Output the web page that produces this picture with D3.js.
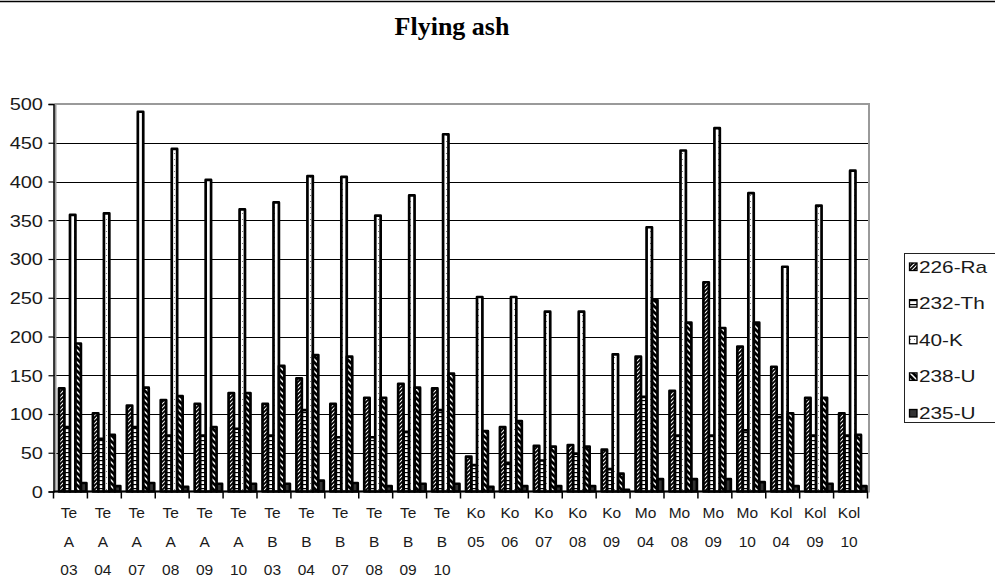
<!DOCTYPE html>
<html>
<head>
<meta charset="utf-8">
<script src="https://cdn.jsdelivr.net/npm/d3@7"></script>
<style>
  body { margin: 0; background: #fff; }
  svg { display: block; }
  text { font-family: "Liberation Sans", Arial, sans-serif; fill: #1a1a1a; }
</style>
</head>
<body>
<svg id="chart" width="995" height="578"></svg>
<script>
// Sampling sites (lines separated by spaces) and measured activities
const categories = [
  "Te A 03", "Te A 04", "Te A 07", "Te A 08", "Te A 09", "Te A 10",
  "Te B 03", "Te B 04", "Te B 07", "Te B 08", "Te B 09", "Te B 10",
  "Ko 05", "Ko 06", "Ko 07", "Ko 08", "Ko 09",
  "Mo 04", "Mo 08", "Mo 09", "Mo 10",
  "Kol 04", "Kol 09", "Kol 10"
];
const seriesNames = ["226-Ra", "232-Th", "40-K", "238-U", "235-U"];

const ra226 = [133, 101, 111, 118, 113, 127, 113, 146, 113, 121, 139, 133, 45, 83, 59, 60, 54, 174, 130, 270, 187, 161, 121, 101];
const th232 = [83, 68, 83, 72, 72, 81, 72, 105, 70, 70, 77, 105, 34, 37, 40, 49, 29, 122, 72, 72, 79, 96, 72, 72];
const k40   = [357, 359, 490, 442, 402, 364, 373, 407, 406, 356, 382, 461, 251, 251, 232, 232, 177, 341, 440, 469, 385, 290, 369, 414];
const u238  = [191, 73, 134, 123, 83, 127, 162, 176, 174, 121, 134, 152, 78, 91, 58, 58, 23, 247, 218, 211, 218, 101, 121, 73];
const u235  = [11, 7, 11, 6, 10, 10, 10, 14, 11, 7, 10, 10, 6, 7, 7, 7, 2, 16, 16, 16, 12, 7, 10, 7];

const yTicks = [0, 50, 100, 150, 200, 250, 300, 350, 400, 450, 500];
const chartTitle = "Flying ash";

const seriesValues = [ra226, th232, k40, u238, u235];

const svg = d3.select("#chart");
const W = 995;
const plot = { left: 53.5, right: 867.5, top: 104, bottom: 491.5 };
const textStretch = 1.25; // axis and legend labels are drawn slightly widened

const x = d3.scaleBand().domain(categories).range([plot.left, plot.right]).padding(0);
const y = d3.scaleLinear().domain([0, 500]).range([plot.bottom, plot.top]);
// overlapping bars inside each category band
const barOffset = d3.scalePoint().domain(seriesNames).range([5.5, 27.5]);
const barWidth = 5.4;

// ---- fill patterns ----
const defs = svg.append("defs");
function pattern(id, w, h, build) {
  const p = defs.append("pattern").attr("id", id)
    .attr("patternUnits", "userSpaceOnUse").attr("width", w).attr("height", h);
  build(p);
}
pattern("p-ra", 4, 4, p => {
  p.append("rect").attr("width", 4).attr("height", 4).attr("fill", "#fff");
  p.append("path").attr("d", "M-1,1 L1,-1 M0,4 L4,0 M3,5 L5,3").attr("stroke", "#000").attr("stroke-width", 1.8);
});
pattern("p-th", 4, 4, p => {
  p.append("rect").attr("width", 4).attr("height", 4).attr("fill", "#fff");
  p.append("rect").attr("y", 0).attr("width", 4).attr("height", 1.2).attr("fill", "#000");
});
pattern("p-k", 4, 6, p => {
  p.append("rect").attr("width", 4).attr("height", 6).attr("fill", "#fff");
  p.append("rect").attr("x", 2).attr("y", 3).attr("width", 1).attr("height", 1).attr("fill", "#777");
});
pattern("p-u238", 6, 6, p => {
  p.append("rect").attr("width", 6).attr("height", 6).attr("fill", "#fff");
  p.append("path").attr("d", "M-1,-1 L7,7 M-1,5 L1,7 M5,-1 L7,1").attr("stroke", "#000").attr("stroke-width", 2.8);
});
const fills = ["url(#p-ra)", "url(#p-th)", "url(#p-k)", "url(#p-u238)", "#333"];

// ---- rule at the very top ----
svg.append("line").attr("x1", 0).attr("x2", W).attr("y1", 1.5).attr("y2", 1.5)
  .attr("stroke", "#000").attr("stroke-width", 1.5);

// ---- title ----
svg.append("text").attr("x", 452).attr("y", 35).attr("text-anchor", "middle")
  .style("font-family", "'Liberation Serif', 'Times New Roman', serif")
  .style("font-weight", "bold").style("font-size", "26px").style("fill", "#000")
  .text(chartTitle);

// ---- gridlines ----
svg.append("g").selectAll("line").data(yTicks.filter(t => t > 0 && t < 500)).join("line")
  .attr("x1", plot.left).attr("x2", plot.right + 1.5)
  .attr("y1", d => Math.round(y(d)) + 0.5).attr("y2", d => Math.round(y(d)) + 0.5)
  .attr("stroke", "#000").attr("stroke-width", 1.2);

// ---- plot area border ----
svg.append("rect").attr("x", plot.left + 2).attr("y", plot.top)
  .attr("width", plot.right + 1.5 - plot.left - 2).attr("height", plot.bottom - plot.top)
  .attr("fill", "none").attr("stroke", "#9a9a9a").attr("stroke-width", 2);

// ---- bars: each series drawn in turn so later ones overlap earlier ones ----
seriesNames.forEach((name, si) => {
  svg.append("g").attr("class", "series")
    .selectAll("rect").data(categories.map((c, i) => ({ c, v: seriesValues[si][i] }))).join("rect")
    .attr("x", d => x(d.c) + barOffset(name))
    .attr("y", d => y(d.v))
    .attr("width", barWidth)
    .attr("height", d => y(0) - y(d.v))
    .attr("fill", fills[si])
    .attr("stroke", "#000").attr("stroke-width", 2.7)
    .attr("stroke-linejoin", "round");
});

// ---- y axis ----
const yAxis = svg.append("g").attr("transform", `translate(${plot.left},0)`)
  .call(d3.axisLeft(y).tickValues(yTicks).tickSize(5).tickPadding(5));
yAxis.select(".domain").attr("stroke", "#000").attr("stroke-width", 1.5);
yAxis.selectAll(".tick line").attr("stroke", "#000").attr("stroke-width", 1.2);
yAxis.selectAll(".tick text").style("font-size", "16px")
  .style("fill", "#1a1a1a").attr("dy", "0.36em")
  .attr("x", 0).attr("transform", `translate(-10.5,0) scale(${textStretch},1)`);

// ---- x axis ----
const xAxis = svg.append("g");
xAxis.append("line").attr("x1", plot.left).attr("x2", plot.right)
  .attr("y1", plot.bottom).attr("y2", plot.bottom).attr("stroke", "#000").attr("stroke-width", 1.8);
const bounds = categories.map(c => x(c)).concat([plot.right]);
xAxis.selectAll("line.tick").data(bounds).join("line").attr("class", "tick")
  .attr("x1", d => d).attr("x2", d => d)
  .attr("y1", plot.bottom).attr("y2", plot.bottom + 7)
  .attr("stroke", "#000").attr("stroke-width", 1.5);
const lineY = [518, 546.5, 575];
xAxis.selectAll("text.cat").data(categories).join("text").attr("class", "cat")
  .attr("text-anchor", "middle").style("font-size", "15.5px")
  .each(function (c) {
    const t = d3.select(this);
    c.split(" ").forEach((part, k) => {
      t.append("tspan").attr("x", x(c) + x.bandwidth() / 2 - 1.5).attr("y", lineY[k]).text(part);
    });
  });

// ---- legend ----
const legend = svg.append("g");
legend.append("rect").attr("x", 904.5).attr("y", 253.5).attr("width", 100).attr("height", 169)
  .attr("fill", "#fff").attr("stroke", "#222").attr("stroke-width", 1);
const legendY = d3.scalePoint().domain(seriesNames).range([267, 413.5]);
seriesNames.forEach((name, si) => {
  const cy = legendY(name);
  legend.append("rect").attr("x", 909.5).attr("y", cy - 4).attr("width", 7.5).attr("height", 7.5)
    .attr("fill", fills[si]).attr("stroke", "#000").attr("stroke-width", 1.3);
  legend.append("text").attr("transform", `translate(919,${cy + 5.5}) scale(${textStretch + 0.05},1)`)
    .style("font-size", "16px").text(name);
});
</script>
</body>
</html>
